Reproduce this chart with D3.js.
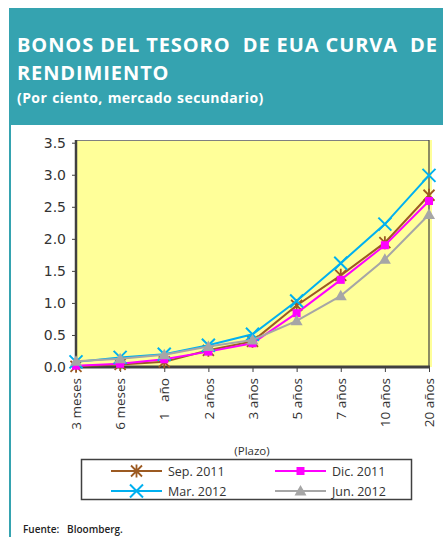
<!DOCTYPE html>
<html><head><meta charset="utf-8">
<script src="https://cdn.jsdelivr.net/npm/d3@7"></script>
<style>
body{margin:0;background:#fff;}
svg{display:block;}
</style></head>
<body>
<svg id="c" width="443" height="537"></svg>
<script>
const categories = ["3 meses","6 meses","1   año","2 años","3 años","5 años","7 años","10 años","20 años"];
const sep2011 = [0.01,0.04,0.08,0.26,0.40,0.96,1.43,1.94,2.68];
const dic2011 = [0.02,0.05,0.12,0.24,0.37,0.84,1.36,1.90,2.59];
const mar2012 = [0.08,0.15,0.20,0.34,0.51,1.03,1.62,2.23,2.99];
const jun2012 = [0.09,0.13,0.19,0.32,0.42,0.72,1.11,1.68,2.38];
const seriesNames = ["Sep. 2011","Dic. 2011","Mar. 2012","Jun. 2012"];
const yTicks = [0,0.5,1,1.5,2,2.5,3,3.5];

const series = [
  {name:seriesNames[0], values:sep2011, color:"#9C5A22", marker:"star"},
  {name:seriesNames[1], values:dic2011, color:"#FF00FF", marker:"square"},
  {name:seriesNames[2], values:mar2012, color:"#00B0F0", marker:"x"},
  {name:seriesNames[3], values:jun2012, color:"#A6A6A6", marker:"tri"}
];

const svg = d3.select("#c");
const teal = "#35A3B0";

// frame
svg.append("rect").attr("x",9).attr("y",8).attr("width",440).attr("height",117).attr("fill",teal);
svg.append("rect").attr("x",9).attr("y",8).attr("width",2).attr("height",529).attr("fill",teal);

const tf = "'Open Sans', sans-serif";
svg.append("text").attr("x",17).attr("y",52).attr("fill","#fff").attr("font-family",tf)
  .attr("font-weight","bold").attr("font-size",20).attr("letter-spacing",0.9).style("white-space","pre")
  .text("BONOS DEL TESORO  DE EUA CURVA  DE");
svg.append("text").attr("x",17).attr("y",80).attr("fill","#fff").attr("font-family",tf)
  .attr("font-weight","bold").attr("font-size",20).attr("letter-spacing",0.9).text("RENDIMIENTO");
svg.append("text").attr("x",17).attr("y",103).attr("fill","#fff").attr("font-family",tf)
  .attr("font-weight","bold").attr("font-size",14).attr("letter-spacing",0.4).attr("word-spacing",1).style("white-space","pre")
  .text("(Por ciento, mercado secundario)");

const L=76, R=429, T=142.7, B=367;
const x = d3.scalePoint().domain(categories).range([L,R]).padding(0);
const y = d3.scaleLinear().domain([0,3.5]).range([B,T]);

svg.append("rect").attr("x",L).attr("y",140).attr("width",R-L+3).attr("height",B-140).attr("fill","#FFFF99");
svg.append("line").attr("x1",L).attr("x2",R).attr("y1",140.5).attr("y2",140.5).attr("stroke","#808080").attr("stroke-width",1.2);
svg.append("line").attr("x1",R).attr("x2",R).attr("y1",140).attr("y2",B).attr("stroke","#404040").attr("stroke-width",1.2);

// y axis
const yAxis = svg.append("g").attr("transform",`translate(${L},0)`)
  .call(d3.axisLeft(y).tickValues(yTicks).tickFormat(d3.format(".1f")).tickSizeOuter(0).tickSize(4).tickPadding(6));
yAxis.select(".domain").remove();
yAxis.selectAll("line").attr("stroke","#404040");
yAxis.selectAll("text").attr("font-family","'DejaVu Sans', sans-serif").attr("font-size",14).attr("fill","#333");
svg.append("line").attr("x1",L).attr("x2",L).attr("y1",140).attr("y2",B+1).attr("stroke","#404040").attr("stroke-width",2.5);

// x axis
const xAxis = svg.append("g").attr("transform",`translate(0,${B})`)
  .call(d3.axisBottom(x).tickSizeOuter(0).tickSize(5).tickPadding(6));
xAxis.select(".domain").remove();
xAxis.selectAll("line").attr("stroke","#404040");
xAxis.selectAll("text").attr("font-family","'Open Sans', sans-serif").attr("font-size",13.5).attr("fill","#333")
  .attr("transform","rotate(-90)").attr("text-anchor","end").attr("dy","0.35em").attr("x",-11).attr("y",0)
  .style("white-space","pre");
svg.append("line").attr("x1",L-1).attr("x2",R+1).attr("y1",B).attr("y2",B).attr("stroke","#404040").attr("stroke-width",3);

function drawMarker(g, type, color, cx, cy){
  if(type==="star"){
    const s=5.5;
    g.append("path").attr("d",`M${cx-s},${cy-s}L${cx+s},${cy+s}M${cx-s},${cy+s}L${cx+s},${cy-s}M${cx},${cy-s-1}L${cx},${cy+s+1}`)
      .attr("stroke",color).attr("stroke-width",1.8).attr("fill","none");
  } else if(type==="square"){
    g.append("rect").attr("x",cx-4).attr("y",cy-4).attr("width",8).attr("height",8).attr("fill",color);
  } else if(type==="x"){
    const s=6.5;
    g.append("path").attr("d",`M${cx-s},${cy-s}L${cx+s},${cy+s}M${cx-s},${cy+s}L${cx+s},${cy-s}`)
      .attr("stroke",color).attr("stroke-width",2).attr("fill","none");
  } else {
    g.append("path").attr("d",`M${cx},${cy-6}L${cx+6},${cy+4.5}L${cx-6},${cy+4.5}Z`).attr("fill",color);
  }
}

const line = d3.line().x((d,i)=>x(categories[i])).y(d=>y(d));
series.forEach(s=>{
  const g = svg.append("g");
  g.append("path").datum(s.values).attr("d",line).attr("fill","none").attr("stroke",s.color).attr("stroke-width",2);
  s.values.forEach((v,i)=>drawMarker(g,s.marker,s.color,x(categories[i]),y(v)));
});

svg.append("text").attr("x",252).attr("y",455).attr("text-anchor","middle").attr("font-family","'Open Sans', sans-serif")
  .attr("font-size",11.5).attr("fill","#333").text("(Plazo)");

// legend
svg.append("rect").attr("x",81.5).attr("y",459.5).attr("width",330).attr("height",40).attr("fill","#fff")
  .attr("stroke","#404040").attr("stroke-width",1.5);
const legPos = [[111,471],[275,471],[111,491],[275,491]];
series.forEach((s,i)=>{
  const [lx,ly]=legPos[i];
  const g=svg.append("g");
  g.append("line").attr("x1",lx).attr("x2",lx+51).attr("y1",ly).attr("y2",ly).attr("stroke",s.color).attr("stroke-width",2);
  drawMarker(g,s.marker,s.color,lx+25.5,ly);
  g.append("text").attr("x",lx+57).attr("y",ly+4.5).attr("font-family","'Open Sans', sans-serif").attr("font-size",12.5)
    .attr("fill","#333").text(s.name);
});

svg.append("text").attr("x",23).attr("y",533).attr("font-family","'Open Sans', sans-serif").attr("font-size",10)
  .attr("font-weight","600").attr("fill","#222").style("white-space","pre").text("Fuente:   Bloomberg.");
</script>
</body></html>
